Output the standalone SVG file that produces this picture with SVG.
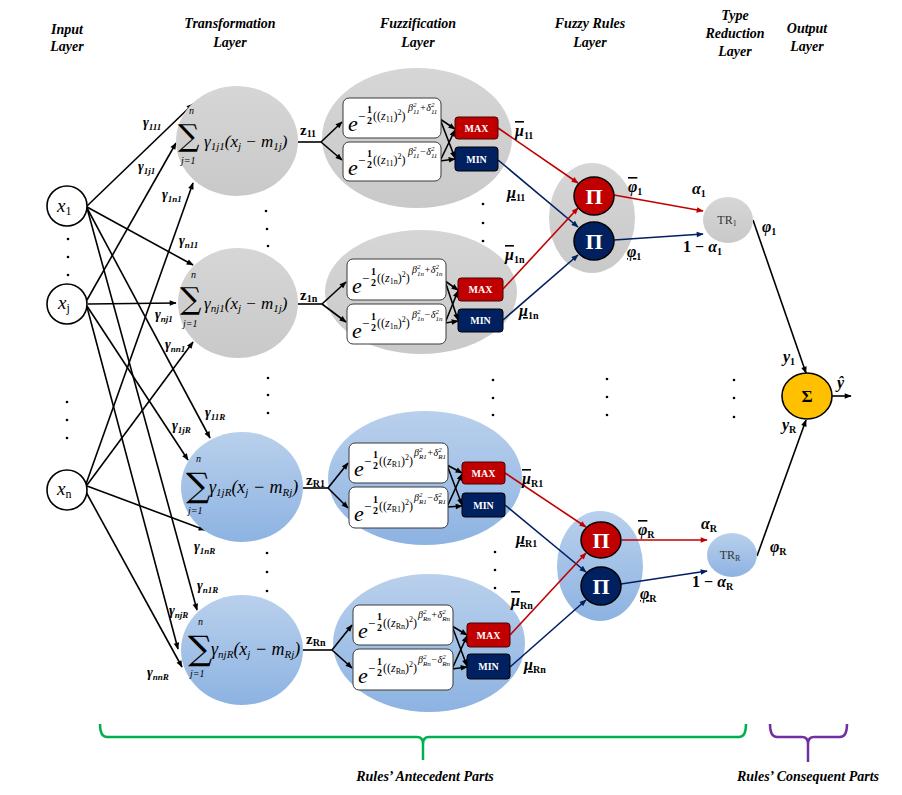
<svg xmlns="http://www.w3.org/2000/svg" width="902" height="795" viewBox="0 0 902 795">
<defs>
<style>
.hdr{font-family:"Liberation Serif",serif;font-weight:bold;font-style:italic;font-size:14px;text-anchor:middle;fill:#000}
.g{font-family:"Liberation Serif",serif;font-weight:bold;font-style:italic;font-size:14px;fill:#000}
.s{font-size:9px}
.ln{stroke:#000;stroke-width:1.6;fill:none}
.rd{stroke:#C00000;stroke-width:1.6;fill:none}
.bl{stroke:#002060;stroke-width:1.6;fill:none}
.box{fill:#fff;stroke:#3a3a3a;stroke-width:1}
.mx{fill:#C00000;stroke:#4a0000;stroke-width:1}
.mn{fill:#002060;stroke:#000;stroke-width:1}
.bt{fill:#fff;font-family:"Liberation Serif",serif;font-weight:bold;font-size:10px;text-anchor:middle}
.pi{fill:#fff;font-family:"Liberation Serif",serif;font-weight:bold;font-size:22px;text-anchor:middle}
.fm{font-family:"Liberation Serif",serif;font-style:italic;fill:#000}
.sg{font-family:"DejaVu Serif",serif;fill:#000}
.sm{font-family:"Liberation Serif",serif;font-style:italic;font-size:10px;fill:#000}
.ef{font-family:"Liberation Serif",serif;font-style:italic;font-size:22px;fill:#000}
.e1{font-family:"Liberation Serif",serif;font-size:13px;fill:#000}
.e2{font-family:"Liberation Serif",serif;font-weight:bold;font-size:10px;fill:#000}
.e3{font-family:"Liberation Serif",serif;font-size:12px;fill:#000}
.e4{font-family:"Liberation Serif",serif;font-style:italic;font-size:10px;fill:#000}
.zl{font-family:"Liberation Serif",serif;font-weight:bold;font-size:15px;fill:#000}
.ml{font-family:"Liberation Serif",serif;font-weight:bold;font-style:italic;font-size:16px;fill:#000}
.mls{font-style:normal;font-size:10px}
.tr{font-family:"Liberation Serif",serif;font-size:12px;fill:#333;text-anchor:middle}
.xl{font-family:"Liberation Serif",serif;font-style:italic;font-size:19px;fill:#000}
.dot{fill:#000}
.gr{fill:url(#gg)}
.bu{fill:url(#bg)}
</style>
<linearGradient id="gg" x1="0" y1="0" x2="0" y2="1"><stop offset="0" stop-color="#D6D6D6"/><stop offset="1" stop-color="#C9C9C9"/></linearGradient>
<linearGradient id="bg" x1="0" y1="0" x2="0" y2="1"><stop offset="0" stop-color="#B9D0EC"/><stop offset="1" stop-color="#8DB3E2"/></linearGradient>
<marker id="ak" viewBox="0 0 10 10" refX="9" refY="5" markerWidth="8" markerHeight="7" orient="auto" markerUnits="userSpaceOnUse"><path d="M0,1 L10,5 L0,9 z" fill="#000"/></marker>
<marker id="ar" viewBox="0 0 10 10" refX="9" refY="5" markerWidth="8" markerHeight="7" orient="auto" markerUnits="userSpaceOnUse"><path d="M0,1 L10,5 L0,9 z" fill="#C00000"/></marker>
<marker id="an" viewBox="0 0 10 10" refX="9" refY="5" markerWidth="8" markerHeight="7" orient="auto" markerUnits="userSpaceOnUse"><path d="M0,1 L10,5 L0,9 z" fill="#002060"/></marker>
</defs>
<rect width="902" height="795" fill="#fff"/>

<!-- headers -->
<g id="headers">
<text class="hdr" x="67" y="34">Input</text><text class="hdr" x="67" y="51">Layer</text>
<text class="hdr" x="230" y="28">Transformation</text><text class="hdr" x="230" y="47">Layer</text>
<text class="hdr" x="418" y="28">Fuzzification</text><text class="hdr" x="418" y="47">Layer</text>
<text class="hdr" x="590" y="28">Fuzzy Rules</text><text class="hdr" x="590" y="47">Layer</text>
<text class="hdr" x="735" y="20">Type</text><text class="hdr" x="735" y="38">Reduction</text><text class="hdr" x="735" y="56">Layer</text>
<text class="hdr" x="807" y="33">Output</text><text class="hdr" x="807" y="51">Layer</text>
</g>

<!-- background ellipses (fuzzification & rules groups) -->
<g id="fuzz-groups">
<ellipse cx="417" cy="138" rx="95" ry="70" class="gr"/>
<ellipse cx="421" cy="292" rx="96" ry="62" class="gr"/>
<ellipse cx="425" cy="478" rx="97" ry="67" class="bu"/>
<ellipse cx="429" cy="643" rx="96" ry="69" class="bu"/>
</g>
<g id="rule-groups">
<ellipse cx="592" cy="218" rx="43" ry="55" class="gr"/>
<ellipse cx="600" cy="566" rx="43" ry="55" class="bu"/>
</g>

<!-- connectors -->
<g id="connectors">
<line x1="87" y1="206" x2="193" y2="104" class="ln" marker-end="url(#ak)"/>
<line x1="87" y1="207" x2="193" y2="265" class="ln" marker-end="url(#ak)"/>
<line x1="87" y1="208" x2="210" y2="438" class="ln" marker-end="url(#ak)"/>
<line x1="87" y1="208" x2="197" y2="610" class="ln" marker-end="url(#ak)"/>
<line x1="87" y1="300" x2="176" y2="143" class="ln" marker-end="url(#ak)"/>
<line x1="88" y1="304" x2="176" y2="303" class="ln" marker-end="url(#ak)"/>
<line x1="87" y1="306" x2="188" y2="460" class="ln" marker-end="url(#ak)"/>
<line x1="87" y1="307" x2="178" y2="649" class="ln" marker-end="url(#ak)"/>
<line x1="86" y1="484" x2="193" y2="183" class="ln" marker-end="url(#ak)"/>
<line x1="87" y1="485" x2="193" y2="342" class="ln" marker-end="url(#ak)"/>
<line x1="87" y1="486" x2="205" y2="530" class="ln" marker-end="url(#ak)"/>
<line x1="86" y1="492" x2="182" y2="667" class="ln" marker-end="url(#ak)"/>
<line x1="298" y1="142" x2="321" y2="142" class="ln"/>
<line x1="321" y1="142" x2="342" y2="122" class="ln" marker-end="url(#ak)"/>
<line x1="321" y1="142" x2="342" y2="160" class="ln" marker-end="url(#ak)"/>
<line x1="298" y1="304" x2="322" y2="304" class="ln"/>
<line x1="322" y1="304" x2="346" y2="282" class="ln" marker-end="url(#ak)"/>
<line x1="322" y1="304" x2="346" y2="322" class="ln" marker-end="url(#ak)"/>
<line x1="303" y1="488" x2="328" y2="488" class="ln"/>
<line x1="328" y1="488" x2="348" y2="463" class="ln" marker-end="url(#ak)"/>
<line x1="328" y1="488" x2="348" y2="508" class="ln" marker-end="url(#ak)"/>
<line x1="303" y1="650" x2="332" y2="650" class="ln"/>
<line x1="332" y1="650" x2="352" y2="625" class="ln" marker-end="url(#ak)"/>
<line x1="332" y1="650" x2="352" y2="668" class="ln" marker-end="url(#ak)"/>
<line x1="440" y1="119" x2="455" y2="129" class="ln" marker-end="url(#ak)"/>
<line x1="440" y1="119" x2="455" y2="158" class="ln" marker-end="url(#ak)"/>
<line x1="440" y1="161" x2="455" y2="130" class="ln" marker-end="url(#ak)"/>
<line x1="440" y1="161" x2="455" y2="159" class="ln" marker-end="url(#ak)"/>
<line x1="445" y1="281" x2="458" y2="290" class="ln" marker-end="url(#ak)"/>
<line x1="445" y1="281" x2="458" y2="320" class="ln" marker-end="url(#ak)"/>
<line x1="445" y1="323" x2="458" y2="291" class="ln" marker-end="url(#ak)"/>
<line x1="445" y1="323" x2="458" y2="321" class="ln" marker-end="url(#ak)"/>
<line x1="447" y1="465" x2="462" y2="473" class="ln" marker-end="url(#ak)"/>
<line x1="447" y1="465" x2="462" y2="505" class="ln" marker-end="url(#ak)"/>
<line x1="447" y1="507" x2="462" y2="474" class="ln" marker-end="url(#ak)"/>
<line x1="447" y1="507" x2="462" y2="506" class="ln" marker-end="url(#ak)"/>
<line x1="452" y1="626" x2="467" y2="635" class="ln" marker-end="url(#ak)"/>
<line x1="452" y1="626" x2="467" y2="666" class="ln" marker-end="url(#ak)"/>
<line x1="452" y1="669" x2="467" y2="636" class="ln" marker-end="url(#ak)"/>
<line x1="452" y1="669" x2="467" y2="667" class="ln" marker-end="url(#ak)"/>
<line x1="498" y1="128" x2="578" y2="183" class="rd" marker-end="url(#ar)"/>
<line x1="498" y1="160" x2="578" y2="227" class="bl" marker-end="url(#an)"/>
<line x1="503" y1="289" x2="578" y2="208" class="rd" marker-end="url(#ar)"/>
<line x1="503" y1="320" x2="578" y2="255" class="bl" marker-end="url(#an)"/>
<line x1="505" y1="473" x2="586" y2="527" class="rd" marker-end="url(#ar)"/>
<line x1="505" y1="505" x2="586" y2="572" class="bl" marker-end="url(#an)"/>
<line x1="510" y1="635" x2="586" y2="553" class="rd" marker-end="url(#ar)"/>
<line x1="510" y1="667" x2="586" y2="600" class="bl" marker-end="url(#an)"/>
<line x1="614" y1="195" x2="703" y2="211" class="rd" marker-end="url(#ar)"/>
<line x1="614" y1="240" x2="703" y2="234" class="bl" marker-end="url(#an)"/>
<line x1="622" y1="540" x2="707" y2="540" class="rd" marker-end="url(#ar)"/>
<line x1="621" y1="584" x2="707" y2="571" class="bl" marker-end="url(#an)"/>
<line x1="753" y1="220" x2="806" y2="373" class="ln" marker-end="url(#ak)"/>
<line x1="757" y1="556" x2="806" y2="420" class="ln" marker-end="url(#ak)"/>
<line x1="832" y1="396" x2="851" y2="396" class="ln" marker-end="url(#ak)"/>
</g>

<!-- input nodes -->
<g id="node-x1"><circle cx="67" cy="206" r="20" fill="#fff" stroke="#000" stroke-width="1.6"/><text class="xl" x="57" y="212">x<tspan font-style="normal" font-size="12" dy="3">1</tspan></text></g>
<g id="node-xj"><circle cx="67" cy="304" r="20" fill="#fff" stroke="#000" stroke-width="1.6"/><text class="xl" x="58" y="309">x<tspan font-style="normal" font-size="12" dy="3">j</tspan></text></g>
<g id="node-xn"><circle cx="67" cy="490" r="20" fill="#fff" stroke="#000" stroke-width="1.6"/><text class="xl" x="57" y="495">x<tspan font-style="normal" font-size="12" dy="3">n</tspan></text></g>

<!-- transformation nodes -->
<g id="node-t1">
<ellipse cx="237" cy="141" rx="61" ry="55" class="gr"/>
<text class="sg" x="178" y="146" font-size="30">∑</text>
<text class="sm" x="189" y="114">n</text>
<text class="sm" x="181" y="164">j=1</text>
<text class="fm" x="204" y="147" font-size="17">γ<tspan font-size="11" dy="3">1j1</tspan><tspan dy="-3">(x</tspan><tspan font-size="11" dy="3">j</tspan><tspan dy="-3"> − m</tspan><tspan font-size="11" dy="3">1j</tspan><tspan dy="-3">)</tspan></text>
</g>
<g id="node-t2">
<ellipse cx="238" cy="303" rx="60" ry="55" class="gr"/>
<text class="sg" x="180" y="309" font-size="30">∑</text>
<text class="sm" x="191" y="278">n</text>
<text class="sm" x="183" y="327">j=1</text>
<text class="fm" x="204" y="309" font-size="17">γ<tspan font-size="11" dy="3">nj1</tspan><tspan dy="-3">(x</tspan><tspan font-size="11" dy="3">j</tspan><tspan dy="-3"> − m</tspan><tspan font-size="11" dy="3">1j</tspan><tspan dy="-3">)</tspan></text>
</g>
<g id="node-t3">
<ellipse cx="242" cy="487" rx="61" ry="55" class="bu"/>
<text class="sg" x="186" y="497" font-size="34">∑</text>
<text class="sm" x="196" y="462" font-size="11">n</text>
<text class="sm" x="188" y="514" font-size="11">j=1</text>
<text class="fm" x="209" y="493" font-size="18">γ<tspan font-size="11" dy="3">1jR</tspan><tspan dy="-3">(x</tspan><tspan font-size="11" dy="3">j</tspan><tspan dy="-3"> − m</tspan><tspan font-size="11" dy="3">Rj</tspan><tspan dy="-3">)</tspan></text>
</g>
<g id="node-t4">
<ellipse cx="242" cy="650" rx="61" ry="55" class="bu"/>
<text class="sg" x="188" y="660" font-size="34">∑</text>
<text class="sm" x="198" y="625" font-size="11">n</text>
<text class="sm" x="190" y="677" font-size="11">j=1</text>
<text class="fm" x="211" y="655" font-size="18">γ<tspan font-size="11" dy="3">njR</tspan><tspan dy="-3">(x</tspan><tspan font-size="11" dy="3">j</tspan><tspan dy="-3"> − m</tspan><tspan font-size="11" dy="3">Rj</tspan><tspan dy="-3">)</tspan></text>
</g>

<!-- fuzzification boxes -->
<g id="mf-11-upper" transform="translate(343,98)">
<rect width="98" height="40" rx="6" class="box"/>
<text class="ef" x="5" y="33">e</text><text class="e1" x="15" y="23">−</text>
<text class="e2" x="24" y="15">1</text><text class="e2" x="24" y="26">2</text>
<text class="e3" x="30" y="22">((<tspan font-style="italic">z</tspan><tspan font-size="8" dy="2">11</tspan><tspan dy="-2">)</tspan><tspan font-size="8" dy="-5">2</tspan><tspan dy="5">)</tspan></text>
<text class="e4" x="65" y="13">β<tspan font-size="7" dy="-4">2</tspan><tspan font-size="7" dx="-3.5" dy="7">11</tspan><tspan dy="-3">+δ</tspan><tspan font-size="7" dy="-4">2</tspan><tspan font-size="7" dx="-3.5" dy="7">11</tspan></text>
</g>
<g id="mf-11-lower" transform="translate(343,142)">
<rect width="98" height="39" rx="6" class="box"/>
<text class="ef" x="5" y="33">e</text><text class="e1" x="15" y="23">−</text>
<text class="e2" x="24" y="15">1</text><text class="e2" x="24" y="26">2</text>
<text class="e3" x="30" y="22">((<tspan font-style="italic">z</tspan><tspan font-size="8" dy="2">11</tspan><tspan dy="-2">)</tspan><tspan font-size="8" dy="-5">2</tspan><tspan dy="5">)</tspan></text>
<text class="e4" x="65" y="13">β<tspan font-size="7" dy="-4">2</tspan><tspan font-size="7" dx="-3.5" dy="7">11</tspan><tspan dy="-3">−δ</tspan><tspan font-size="7" dy="-4">2</tspan><tspan font-size="7" dx="-3.5" dy="7">11</tspan></text>
</g>
<g id="mf-1n-upper" transform="translate(347,259)">
<rect width="99" height="41" rx="6" class="box"/>
<text class="ef" x="5" y="34">e</text><text class="e1" x="15" y="24">−</text>
<text class="e2" x="24" y="16">1</text><text class="e2" x="24" y="27">2</text>
<text class="e3" x="30" y="23">((<tspan font-style="italic">z</tspan><tspan font-size="8" dy="2">1n</tspan><tspan dy="-2">)</tspan><tspan font-size="8" dy="-5">2</tspan><tspan dy="5">)</tspan></text>
<text class="e4" x="65" y="14">β<tspan font-size="7" dy="-4">2</tspan><tspan font-size="7" dx="-3.5" dy="7">1n</tspan><tspan dy="-3">+δ</tspan><tspan font-size="7" dy="-4">2</tspan><tspan font-size="7" dx="-3.5" dy="7">1n</tspan></text>
</g>
<g id="mf-1n-lower" transform="translate(347,304)">
<rect width="99" height="40" rx="6" class="box"/>
<text class="ef" x="5" y="34">e</text><text class="e1" x="15" y="24">−</text>
<text class="e2" x="24" y="16">1</text><text class="e2" x="24" y="27">2</text>
<text class="e3" x="30" y="23">((<tspan font-style="italic">z</tspan><tspan font-size="8" dy="2">1n</tspan><tspan dy="-2">)</tspan><tspan font-size="8" dy="-5">2</tspan><tspan dy="5">)</tspan></text>
<text class="e4" x="65" y="14">β<tspan font-size="7" dy="-4">2</tspan><tspan font-size="7" dx="-3.5" dy="7">1n</tspan><tspan dy="-3">−δ</tspan><tspan font-size="7" dy="-4">2</tspan><tspan font-size="7" dx="-3.5" dy="7">1n</tspan></text>
</g>
<g id="mf-R1-upper" transform="translate(349,443)">
<rect width="99" height="40" rx="6" class="box"/>
<text class="ef" x="5" y="33">e</text><text class="e1" x="15" y="23">−</text>
<text class="e2" x="24" y="15">1</text><text class="e2" x="24" y="26">2</text>
<text class="e3" x="30" y="22">((<tspan font-style="italic">z</tspan><tspan font-size="8" dy="2">R1</tspan><tspan dy="-2">)</tspan><tspan font-size="8" dy="-5">2</tspan><tspan dy="5">)</tspan></text>
<text class="e4" x="65" y="13">β<tspan font-size="7" dy="-4">2</tspan><tspan font-size="7" dx="-3.5" dy="7">R1</tspan><tspan dy="-3">+δ</tspan><tspan font-size="7" dy="-4">2</tspan><tspan font-size="7" dx="-3.5" dy="7">R1</tspan></text>
</g>
<g id="mf-R1-lower" transform="translate(349,487)">
<rect width="99" height="41" rx="6" class="box"/>
<text class="ef" x="5" y="34">e</text><text class="e1" x="15" y="24">−</text>
<text class="e2" x="24" y="16">1</text><text class="e2" x="24" y="27">2</text>
<text class="e3" x="30" y="23">((<tspan font-style="italic">z</tspan><tspan font-size="8" dy="2">R1</tspan><tspan dy="-2">)</tspan><tspan font-size="8" dy="-5">2</tspan><tspan dy="5">)</tspan></text>
<text class="e4" x="65" y="14">β<tspan font-size="7" dy="-4">2</tspan><tspan font-size="7" dx="-3.5" dy="7">R1</tspan><tspan dy="-3">−δ</tspan><tspan font-size="7" dy="-4">2</tspan><tspan font-size="7" dx="-3.5" dy="7">R1</tspan></text>
</g>
<g id="mf-Rn-upper" transform="translate(353,605)">
<rect width="100" height="40" rx="6" class="box"/>
<text class="ef" x="5" y="33">e</text><text class="e1" x="15" y="23">−</text>
<text class="e2" x="24" y="15">1</text><text class="e2" x="24" y="26">2</text>
<text class="e3" x="30" y="22">((<tspan font-style="italic">z</tspan><tspan font-size="8" dy="2">Rn</tspan><tspan dy="-2">)</tspan><tspan font-size="8" dy="-5">2</tspan><tspan dy="5">)</tspan></text>
<text class="e4" x="65" y="13">β<tspan font-size="7" dy="-4">2</tspan><tspan font-size="7" dx="-3.5" dy="7">Rn</tspan><tspan dy="-3">+δ</tspan><tspan font-size="7" dy="-4">2</tspan><tspan font-size="7" dx="-3.5" dy="7">Rn</tspan></text>
</g>
<g id="mf-Rn-lower" transform="translate(353,649)">
<rect width="100" height="41" rx="6" class="box"/>
<text class="ef" x="5" y="34">e</text><text class="e1" x="15" y="24">−</text>
<text class="e2" x="24" y="16">1</text><text class="e2" x="24" y="27">2</text>
<text class="e3" x="30" y="23">((<tspan font-style="italic">z</tspan><tspan font-size="8" dy="2">Rn</tspan><tspan dy="-2">)</tspan><tspan font-size="8" dy="-5">2</tspan><tspan dy="5">)</tspan></text>
<text class="e4" x="65" y="14">β<tspan font-size="7" dy="-4">2</tspan><tspan font-size="7" dx="-3.5" dy="7">Rn</tspan><tspan dy="-3">−δ</tspan><tspan font-size="7" dy="-4">2</tspan><tspan font-size="7" dx="-3.5" dy="7">Rn</tspan></text>
</g>

<!-- MAX / MIN -->
<g id="max-11"><rect x="455" y="117" width="43" height="22" rx="3" class="mx"/><text class="bt" x="476.5" y="132">MAX</text></g>
<g id="min-11"><rect x="455" y="147" width="43" height="24" rx="3" class="mn"/><text class="bt" x="476.5" y="163">MIN</text></g>
<g id="max-1n"><rect x="458" y="278" width="45" height="23" rx="3" class="mx"/><text class="bt" x="480.5" y="293">MAX</text></g>
<g id="min-1n"><rect x="458" y="309" width="45" height="23" rx="3" class="mn"/><text class="bt" x="480.5" y="324">MIN</text></g>
<g id="max-R1"><rect x="462" y="462" width="43" height="22" rx="3" class="mx"/><text class="bt" x="483.5" y="477">MAX</text></g>
<g id="min-R1"><rect x="462" y="493" width="43" height="24" rx="3" class="mn"/><text class="bt" x="483.5" y="509">MIN</text></g>
<g id="max-Rn"><rect x="467" y="623" width="43" height="24" rx="3" class="mx"/><text class="bt" x="488.5" y="639">MAX</text></g>
<g id="min-Rn"><rect x="467" y="654" width="43" height="25" rx="3" class="mn"/><text class="bt" x="488.5" y="670">MIN</text></g>

<!-- rule nodes -->
<g id="pi-1-upper"><ellipse cx="594" cy="196" rx="20" ry="19" fill="#C00000" stroke="#000" stroke-width="1.5"/><text class="pi" x="594" y="204">Π</text></g>
<g id="pi-1-lower"><ellipse cx="594" cy="241" rx="20" ry="19" fill="#002060" stroke="#000" stroke-width="1.5"/><text class="pi" x="594" y="249">Π</text></g>
<g id="pi-R-upper"><ellipse cx="601" cy="540" rx="20" ry="18" fill="#C00000" stroke="#000" stroke-width="1.5"/><text class="pi" x="601" y="548">Π</text></g>
<g id="pi-R-lower"><ellipse cx="601" cy="586" rx="20" ry="19" fill="#002060" stroke="#000" stroke-width="1.5"/><text class="pi" x="601" y="594">Π</text></g>

<!-- type reduction -->
<g id="tr-1"><ellipse cx="728" cy="220" rx="25" ry="23" class="gr"/><text class="tr" x="727" y="224">TR<tspan font-size="8" dy="2">1</tspan></text></g>
<g id="tr-R"><ellipse cx="732" cy="555" rx="25" ry="22" class="bu"/><text class="tr" x="730" y="559">TR<tspan font-size="8" dy="2">R</tspan></text></g>

<!-- output -->
<g id="sum"><ellipse cx="807" cy="396" rx="25" ry="23" fill="#FFC000" stroke="#000" stroke-width="1.6"/><text x="807" y="402" font-family="Liberation Serif,serif" font-weight="bold" font-size="17" text-anchor="middle">Σ</text></g>

<!-- gamma labels -->
<g id="weight-labels">
<text class="g" x="143" y="127">γ<tspan class="s" dy="3">111</tspan></text>
<text class="g" x="138" y="171">γ<tspan class="s" dy="3">1j1</tspan></text>
<text class="g" x="162" y="199">γ<tspan class="s" dy="3">1n1</tspan></text>
<text class="g" x="179" y="245">γ<tspan class="s" dy="3">n11</tspan></text>
<text class="g" x="155" y="319">γ<tspan class="s" dy="3">nj1</tspan></text>
<text class="g" x="165" y="349">γ<tspan class="s" dy="3">nn1</tspan></text>
<text class="g" x="205" y="417">γ<tspan class="s" dy="3">11R</tspan></text>
<text class="g" x="172" y="430">γ<tspan class="s" dy="3">1jR</tspan></text>
<text class="g" x="194" y="551">γ<tspan class="s" dy="3">1nR</tspan></text>
<text class="g" x="197" y="590">γ<tspan class="s" dy="3">n1R</tspan></text>
<text class="g" x="169" y="615">γ<tspan class="s" dy="3">njR</tspan></text>
<text class="g" x="147" y="677">γ<tspan class="s" dy="3">nnR</tspan></text>
</g>

<!-- z labels -->
<g id="z-labels">
<text class="zl" x="300" y="135">z<tspan font-size="10" dy="2">11</tspan></text>
<text class="zl" x="300" y="300">z<tspan font-size="10" dy="2">1n</tspan></text>
<text class="zl" x="306" y="485">z<tspan font-size="10" dy="2">R1</tspan></text>
<text class="zl" x="306" y="644">z<tspan font-size="10" dy="2">Rn</tspan></text>
</g>

<!-- mu / phi / alpha labels -->
<g id="mf-labels">
<text class="ml" x="515" y="136"><tspan text-decoration="overline">μ</tspan><tspan class="mls" dy="3">11</tspan></text>
<text class="ml" x="507" y="198"><tspan text-decoration="underline">μ</tspan><tspan class="mls" dy="3">11</tspan></text>
<text class="ml" x="505" y="260"><tspan text-decoration="overline">μ</tspan><tspan class="mls" dy="3">1n</tspan></text>
<text class="ml" x="519" y="316"><tspan text-decoration="underline">μ</tspan><tspan class="mls" dy="3">1n</tspan></text>
<text class="ml" x="522" y="484"><tspan text-decoration="overline">μ</tspan><tspan class="mls" dy="3">R1</tspan></text>
<text class="ml" x="516" y="544"><tspan text-decoration="underline">μ</tspan><tspan class="mls" dy="3">R1</tspan></text>
<text class="ml" x="511" y="606"><tspan text-decoration="overline">μ</tspan><tspan class="mls" dy="3">Rn</tspan></text>
<text class="ml" x="524" y="670"><tspan text-decoration="underline">μ</tspan><tspan class="mls" dy="3">Rn</tspan></text>
<text class="ml" x="628" y="192" font-size="19"><tspan text-decoration="overline">φ</tspan><tspan class="mls" font-size="11" dy="3">1</tspan></text>
<text class="ml" x="627" y="257" font-size="19"><tspan text-decoration="underline">φ</tspan><tspan class="mls" font-size="11" dy="3">1</tspan></text>
<text class="ml" x="638" y="535" font-size="19"><tspan text-decoration="overline">φ</tspan><tspan class="mls" font-size="11" font-style="italic" dy="3">R</tspan></text>
<text class="ml" x="640" y="599" font-size="19"><tspan text-decoration="underline">φ</tspan><tspan class="mls" font-size="11" font-style="italic" dy="3">R</tspan></text>
<text class="ml" x="692" y="194" font-size="14">α<tspan class="mls" dy="3">1</tspan></text>
<text class="ml" x="683" y="252" font-size="14"><tspan font-style="normal">1 − </tspan>α<tspan class="mls" dy="3">1</tspan></text>
<text class="ml" x="701" y="529" font-size="14">α<tspan class="mls" font-style="italic" dy="3">R</tspan></text>
<text class="ml" x="692" y="587" font-size="14"><tspan font-style="normal">1 − </tspan>α<tspan class="mls" font-style="italic" dy="3">R</tspan></text>
<text class="ml" x="762" y="232" font-size="14">φ<tspan class="mls" font-style="italic" dy="3">1</tspan></text>
<text class="ml" x="770" y="552" font-size="14">φ<tspan class="mls" font-style="italic" dy="3">R</tspan></text>
<text class="ml" x="783" y="362" font-size="15">y<tspan class="mls" font-style="italic" dy="3">1</tspan></text>
<text class="ml" x="782" y="430" font-size="15">y<tspan class="mls" font-style="italic" dy="3">R</tspan></text>
<text class="ml" x="837" y="388" font-size="15">ŷ</text>
</g>

<!-- ellipsis dots -->
<g id="dots" class="dot">
<circle cx="68" cy="239" r="1.3"/><circle cx="68" cy="257" r="1.3"/><circle cx="68" cy="275" r="1.3"/>
<circle cx="67" cy="402" r="1.3"/><circle cx="67" cy="420" r="1.3"/><circle cx="67" cy="438" r="1.3"/>
<circle cx="266" cy="211" r="1.3"/><circle cx="267" cy="229" r="1.3"/><circle cx="268" cy="246" r="1.3"/>
<circle cx="268" cy="378" r="1.3"/><circle cx="268" cy="395" r="1.3"/><circle cx="268" cy="413" r="1.3"/>
<circle cx="267" cy="553" r="1.3"/><circle cx="267" cy="572" r="1.3"/><circle cx="267" cy="591" r="1.3"/>
<circle cx="483" cy="204" r="1.3"/><circle cx="483" cy="223" r="1.3"/><circle cx="483" cy="241" r="1.3"/>
<circle cx="493" cy="380" r="1.3"/><circle cx="493" cy="398" r="1.3"/><circle cx="493" cy="415" r="1.3"/>
<circle cx="495" cy="552" r="1.3"/><circle cx="495" cy="570" r="1.3"/><circle cx="495" cy="588" r="1.3"/>
<circle cx="607" cy="379" r="1.3"/><circle cx="607" cy="397" r="1.3"/><circle cx="607" cy="415" r="1.3"/>
<circle cx="734" cy="380" r="1.3"/><circle cx="734" cy="398" r="1.3"/><circle cx="734" cy="417" r="1.3"/>
</g>

<!-- brackets -->
<g id="brackets" fill="none" stroke-width="2.5">
<path d="M100,724 Q100,737 107,737 L417,737 Q423,737 423,744 L423,760 M423,744 Q423,737 429,737 L739,737 Q746,737 746,724" stroke="#00B050"/>
<path d="M770,724 Q770,737 777,737 L802,737 Q808,737 808,744 L808,762 M808,744 Q808,737 814,737 L840,737 Q847,737 847,724" stroke="#7030A0"/>
</g>
<text class="hdr" x="425" y="781">Rules’ Antecedent Parts</text>
<text class="hdr" x="808" y="781">Rules’ Consequent Parts</text>
</svg>
